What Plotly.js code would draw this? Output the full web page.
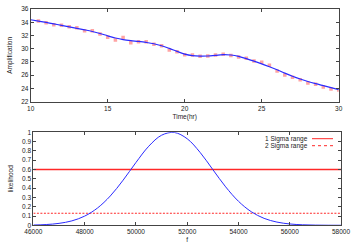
<!DOCTYPE html>
<html>
<head>
<meta charset="utf-8">
<script src="https://cdn.plot.ly/plotly-3.0.1.min.js"></script>
<style>html,body{margin:0;padding:0;background:#fff;}#chart{width:354px;height:248px;}</style>
</head>
<body>
<div id="chart"></div>
<script>
// ---- data ----
const timeHr = [10.5, 11, 11.5, 12, 12.5, 13, 13.5, 14, 14.5, 15, 15.5, 16, 16.5, 17, 17.5, 18, 18.5, 19, 19.5, 20,
  20.5, 21, 21.5, 22, 22.5, 23, 23.5, 24, 24.5, 25, 25.5, 26, 26.5, 27, 27.5, 28, 28.5, 29, 29.5, 30];
const amplitude = [34.19, 33.93, 33.63, 33.53, 33.33, 33.18, 32.73, 32.73, 32.22, 31.72, 31.32, 31.70, 30.91, 31.07, 31.07, 30.68, 30.46, 29.81, 29.55, 29.08,
  29.05, 28.85, 28.90, 29.05, 29.15, 28.98, 28.75, 28.55, 28.15, 27.94, 27.49, 26.63, 26.03, 25.68, 25.33, 24.82, 24.62, 24.22, 23.92, 23.76];
const fitTime = [10, 10.5, 11, 11.5, 12, 12.5, 13, 13.5, 14, 14.5, 15, 15.5, 16, 16.5, 17, 17.5, 18, 18.5, 19, 19.5, 20,
  20.5, 21, 21.5, 22, 22.5, 23, 23.5, 24, 24.5, 25, 25.5, 26, 26.5, 27, 27.5, 28, 28.5, 29, 29.5, 30];
const fitAmplitude = [34.38, 34.18, 33.97, 33.75, 33.53, 33.30, 33.08, 32.85, 32.60, 32.30, 31.95, 31.62, 31.38, 31.22, 31.10, 30.95, 30.75, 30.45, 30.05, 29.60, 29.18,
  28.95, 28.88, 28.90, 29.00, 29.10, 29.05, 28.85, 28.50, 28.12, 27.72, 27.28, 26.82, 26.32, 25.85, 25.43, 25.05, 24.72, 24.42, 24.12, 23.82];

const freq = [46000, 46500, 47000, 47500, 48000, 48500, 49000, 49500, 50000, 50500, 51000, 51500, 52000,
  52500, 53000, 53500, 54000, 54500, 55000, 55500, 56000, 56500, 57000, 57500, 58000];
const likelihood = [0.0029, 0.0082, 0.0207, 0.0475, 0.0988, 0.1856, 0.3155, 0.4853, 0.6753, 0.8502, 0.9685, 0.998, 0.9304,
  0.7848, 0.5989, 0.4134, 0.2582, 0.1459, 0.0746, 0.0345, 0.0144, 0.0055, 0.0019, 0.0006, 0.0002];

const sigmaNames = ['1 Sigma range', '2 Sigma range'];
const sigmaLevels = [0.6, 0.13];

const ampTicks = [22, 24, 26, 28, 30, 32, 34, 36];
const timeTicks = [10, 15, 20, 25, 30];
const freqTicks = [46000, 48000, 50000, 52000, 54000, 56000, 58000];
const likeTicks = [0, 0.1, 0.2, 0.3, 0.4, 0.5, 0.6, 0.7, 0.8, 0.9, 1];

// ---- styling ----
const W = 354, H = 248;
const FONT = {family: 'Liberation Sans, Arial, sans-serif', size: 6.5, color: '#222'};
const px = v => v / W, py = v => 1 - v / H;
const sigmaColor = 'rgb(255,40,40)';
const sigmaStyles = [
  {color: sigmaColor, width: 1.3},
  {color: sigmaColor, width: 1.1, dash: '2px,1.5px'}
];

const axisCommon = {
  showgrid: false, zeroline: false, showline: true, linecolor: '#444', linewidth: 1,
  mirror: 'allticks', ticks: 'inside', ticklen: 3, tickcolor: '#444', tickwidth: 1,
  tickfont: FONT, automargin: false
};

const traces = [];
sigmaLevels.forEach((lv, i) => {
  traces.push({x: [freq[0], freq[freq.length - 1]], y: [lv, lv], type: 'scatter', mode: 'lines',
    xaxis: 'x2', yaxis: 'y2', name: sigmaNames[i],
    line: sigmaStyles[i], showlegend: false, hoverinfo: 'skip'});
});
traces.push(
  {x: timeHr, y: amplitude, type: 'scatter', mode: 'markers', xaxis: 'x', yaxis: 'y',
   marker: {symbol: 'square', size: 3.5, color: 'rgba(255,90,90,0.55)', line: {width: 0}},
   showlegend: false, hoverinfo: 'skip'},
  {x: fitTime, y: fitAmplitude, type: 'scatter', mode: 'lines', xaxis: 'x', yaxis: 'y',
   line: {color: '#2b2bff', width: 1.2, shape: 'spline'}, showlegend: false},
  {x: freq, y: likelihood, type: 'scatter', mode: 'lines', xaxis: 'x2', yaxis: 'y2',
   line: {color: '#2b2bff', width: 1, shape: 'spline'}, showlegend: false}
);

// legend (gnuplot style: text left, sample right)
const annotations = [];
const shapes = [];
sigmaNames.forEach((nm, i) => {
  const yy = 138.7 + i * 7;
  annotations.push({text: nm, xref: 'paper', yref: 'paper', x: px(309.5), y: py(yy),
    xanchor: 'right', yanchor: 'middle', showarrow: false, font: FONT});
  shapes.push({type: 'line', xref: 'paper', yref: 'paper', x0: px(312), x1: px(333), y0: py(yy), y1: py(yy),
    line: {color: sigmaColor, width: 1, dash: i === 0 ? 'solid' : 'dot'}});
});

const layout = {
  width: W, height: H, margin: {l: 0, r: 0, t: 0, b: 0},
  paper_bgcolor: '#fff', plot_bgcolor: '#fff', font: FONT, showlegend: false,
  xaxis: Object.assign({}, axisCommon, {domain: [px(30.7), px(338.7)], range: [10, 30],
    tickvals: timeTicks, anchor: 'y',
    title: {text: 'Time(hr)', font: FONT, standoff: 3}}),
  yaxis: Object.assign({}, axisCommon, {domain: [py(101.7), py(9)], range: [22, 36],
    tickvals: ampTicks, anchor: 'x',
    title: {text: 'Amplification', font: FONT, standoff: 7}}),
  xaxis2: Object.assign({}, axisCommon, {domain: [px(33.4), px(341)], range: [46000, 58000],
    tickvals: freqTicks, ticktext: freqTicks.map(String), anchor: 'y2',
    title: {text: 'f', font: FONT, standoff: 3}}),
  yaxis2: Object.assign({}, axisCommon, {domain: [py(225.3), py(132.3)], range: [0, 1],
    tickvals: likeTicks, anchor: 'x2',
    title: {text: 'likelihood', font: FONT, standoff: 7}}),
  annotations: annotations, shapes: shapes
};

Plotly.newPlot('chart', traces, layout, {staticPlot: true, displayModeBar: false});
</script>
</body>
</html>
